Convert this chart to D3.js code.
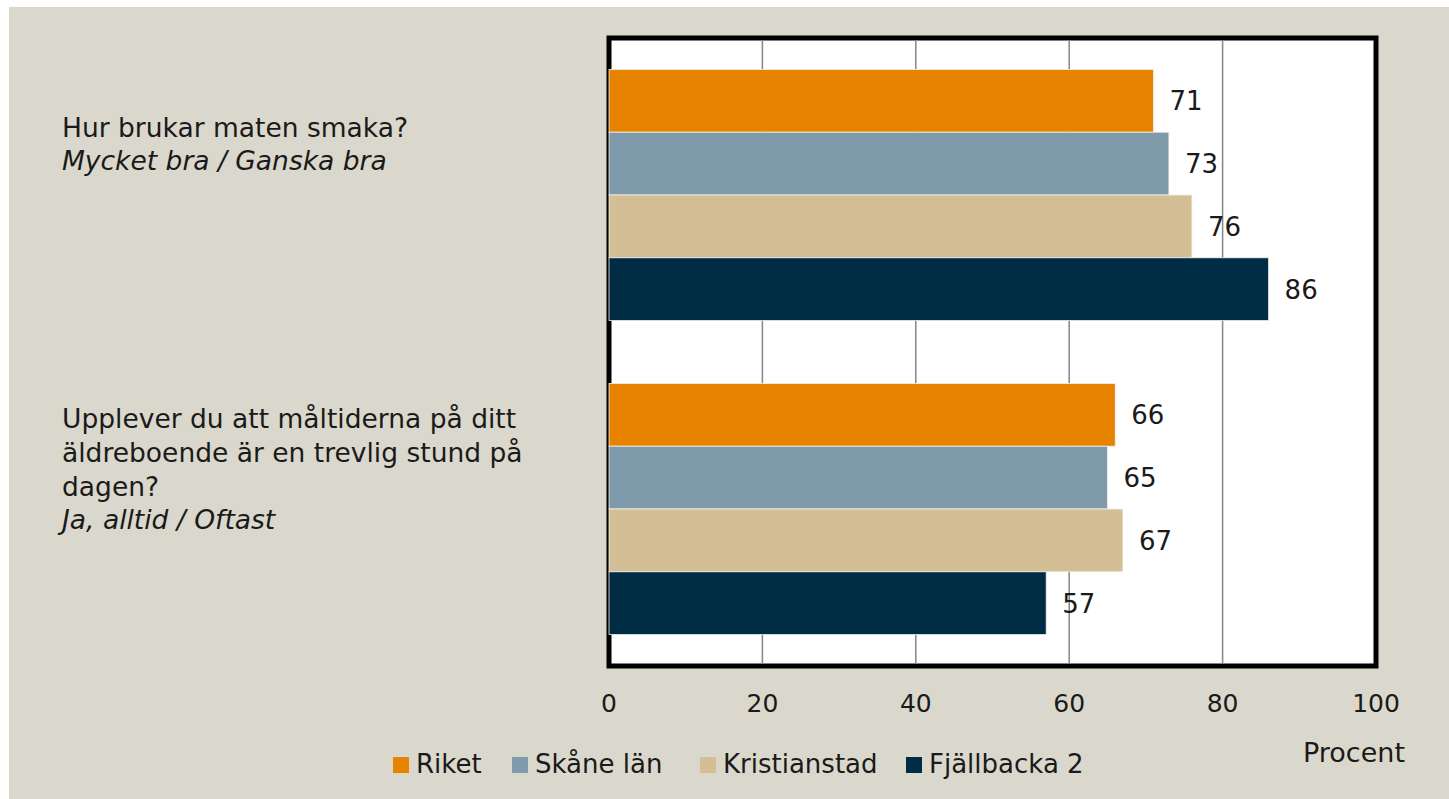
<!DOCTYPE html>
<html>
<head>
<meta charset="utf-8">
<script src="https://cdn.jsdelivr.net/npm/d3@7"></script>
<style>
  html, body { margin: 0; padding: 0; background: #fff; }
  svg { display: block; }
  text { font-family: "DejaVu Sans", sans-serif; fill: #1a1a1a; }
</style>
</head>
<body>
<div id="container"></div>
<script>
// chart data
var questions = ["q1", "q2"];
var questionLines = [
    ["Hur brukar maten smaka?"],
    ["Upplever du att måltiderna på ditt", "äldreboende är en trevlig stund på", "dagen?"]
];
var answerLines = ["Mycket bra / Ganska bra", "Ja, alltid / Oftast"];
var seriesNames = ["Riket", "Skåne län", "Kristianstad", "Fjällbacka 2"];
var seriesColors = ["#e88300", "#7f9aab", "#d3be95", "#002b45"];
var values = [
    [71, 73, 76, 86],
    [66, 65, 67, 57]
];
var ticks = [0, 20, 40, 60, 80, 100];

var width = 1449, height = 799;

var svg = d3.select("#container").append("svg")
    .attr("width", width)
    .attr("height", height);

// beige panel
svg.append("rect")
    .attr("x", 9).attr("y", 7)
    .attr("width", width - 9).attr("height", height - 7)
    .attr("fill", "#dad8cc");

var plot = { left: 609, right: 1376, top: 38, bottom: 666 };

var x = d3.scaleLinear().domain([0, 100]).range([plot.left, plot.right]);
var y0 = d3.scaleBand().domain(questions).range([plot.top, plot.bottom])
    .paddingInner(0.2).paddingOuter(0.1);
var y1 = d3.scaleBand().domain(d3.range(seriesNames.length)).range([0, y0.bandwidth()]);

// plot area
svg.append("rect")
    .attr("x", plot.left).attr("y", plot.top)
    .attr("width", plot.right - plot.left).attr("height", plot.bottom - plot.top)
    .attr("fill", "#fff")
    .attr("stroke", "#000")
    .attr("stroke-width", 5);

svg.append("g").selectAll("line")
    .data(ticks.filter(t => t > 0 && t < 100))
    .join("line")
    .attr("x1", d => x(d)).attr("x2", d => x(d))
    .attr("y1", plot.top + 2).attr("y2", plot.bottom - 2)
    .attr("stroke", "#858585")
    .attr("stroke-width", 1.5);

// bars
var groups = svg.append("g").selectAll("g")
    .data(values)
    .join("g")
    .attr("transform", (d, i) => `translate(0,${y0(questions[i])})`);

groups.selectAll("rect")
    .data(d => d)
    .join("rect")
    .attr("x", x(0))
    .attr("y", (d, i) => y1(i))
    .attr("width", d => x(d) - x(0))
    .attr("height", y1.bandwidth())
    .attr("fill", (d, i) => seriesColors[i])
    .attr("stroke", "#f4f2ec")
    .attr("stroke-width", 0.8);

groups.selectAll("text")
    .data(d => d)
    .join("text")
    .attr("x", d => x(d) + 16)
    .attr("y", (d, i) => y1(i) + y1.bandwidth() / 2)
    .attr("dy", "0.36em")
    .style("font-size", "26px")
    .text(d => d);

// x axis labels
svg.append("g").selectAll("text")
    .data(ticks)
    .join("text")
    .attr("x", d => x(d))
    .attr("y", 712)
    .attr("text-anchor", "middle")
    .style("font-size", "25px")
    .text(d => d);

svg.append("text")
    .attr("x", 1405).attr("y", 762)
    .attr("text-anchor", "end")
    .style("font-size", "27px")
    .text("Procent");

// question labels
var qLabels = svg.append("g").selectAll("g")
    .data(questions)
    .join("g");

var lineStarts = [137, 428];
qLabels.each(function (q, i) {
    var g = d3.select(this);
    var lines = questionLines[i];
    var lh = 34;
    var first = lineStarts[i];
    lines.forEach((l, k) => {
        g.append("text")
            .attr("x", 62).attr("y", first + k * lh)
            .style("font-size", "26.5px")
            .text(l);
    });
    g.append("text")
        .attr("x", 62).attr("y", first + lines.length * lh - 1)
        .style("font-size", "26.5px")
        .style("font-style", "italic")
        .text(answerLines[i]);
});

// legend
var legendX = [393, 512, 700, 906];
var legend = svg.append("g").selectAll("g")
    .data(seriesNames)
    .join("g")
    .attr("transform", (d, i) => `translate(${legendX[i]},757)`);

legend.append("rect")
    .attr("width", 16).attr("height", 16)
    .attr("fill", (d, i) => seriesColors[i]);

legend.append("text")
    .attr("x", 23).attr("y", 16)
    .style("font-size", "26px")
    .text(d => d);
</script>
</body>
</html>
